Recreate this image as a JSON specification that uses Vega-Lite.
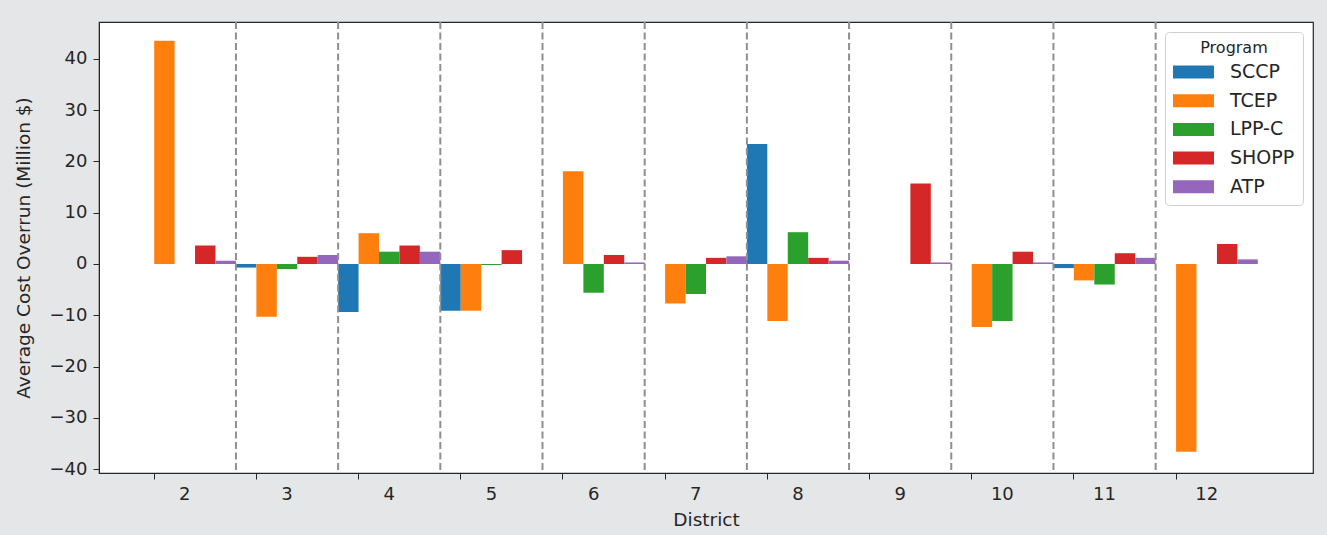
{
  "$schema": "https://vega.github.io/schema/vega-lite/v6.json",
  "width": 1214,
  "height": 451,
  "autosize": {"type": "none"},
  "padding": {"left": 99, "top": 22, "right": 14, "bottom": 62},
  "background": "#e5e6e8",
  "config": {
    "font": "DejaVu Sans",
    "view": {"fill": "white", "stroke": "#262626", "strokeWidth": 1.2},
    "axis": {
      "grid": false,
      "domainColor": "#262626",
      "tickColor": "#262626",
      "labelColor": "#262626",
      "titleColor": "#262626",
      "labelFontSize": 18,
      "titleFontSize": 18.5,
      "titleFontWeight": "normal",
      "tickSize": 6,
      "labelPadding": 5
    },
    "legend": {
      "orient": "top-right",
      "offset": 10,
      "padding": 8,
      "fillColor": "white",
      "strokeColor": "#d0d0d0",
      "cornerRadius": 4,
      "titleFontSize": 16,
      "titleFontWeight": "normal",
      "titleColor": "#262626",
      "titleAnchor": "middle",
      "titleAlign": "center",
      "titlePadding": 6,
      "labelFontSize": 19,
      "labelColor": "#262626",
      "labelOffset": 37,
      "rowPadding": 8.7,
      "symbolType": "M-1,-0.65L3.1,-0.65L3.1,0.65L-1,0.65Z",
      "symbolSize": 400,
      "symbolStrokeWidth": 0,
      "symbolOpacity": 1
    }
  },
  "datasets": {
    "bars": [
      {"district": 2, "program": "TCEP", "overrun": 43.5},
      {"district": 2, "program": "SHOPP", "overrun": 3.6},
      {"district": 2, "program": "ATP", "overrun": 0.65},
      {"district": 3, "program": "SCCP", "overrun": -0.7},
      {"district": 3, "program": "TCEP", "overrun": -10.3},
      {"district": 3, "program": "LPP-C", "overrun": -1.0},
      {"district": 3, "program": "SHOPP", "overrun": 1.4},
      {"district": 3, "program": "ATP", "overrun": 1.75},
      {"district": 4, "program": "SCCP", "overrun": -9.35},
      {"district": 4, "program": "TCEP", "overrun": 6.0},
      {"district": 4, "program": "LPP-C", "overrun": 2.4},
      {"district": 4, "program": "SHOPP", "overrun": 3.6},
      {"district": 4, "program": "ATP", "overrun": 2.4},
      {"district": 5, "program": "SCCP", "overrun": -9.1},
      {"district": 5, "program": "TCEP", "overrun": -9.1},
      {"district": 5, "program": "LPP-C", "overrun": -0.2},
      {"district": 5, "program": "SHOPP", "overrun": 2.7},
      {"district": 6, "program": "TCEP", "overrun": 18.1},
      {"district": 6, "program": "LPP-C", "overrun": -5.6},
      {"district": 6, "program": "SHOPP", "overrun": 1.75},
      {"district": 6, "program": "ATP", "overrun": 0.3},
      {"district": 7, "program": "TCEP", "overrun": -7.7},
      {"district": 7, "program": "LPP-C", "overrun": -5.85},
      {"district": 7, "program": "SHOPP", "overrun": 1.2},
      {"district": 7, "program": "ATP", "overrun": 1.5},
      {"district": 8, "program": "SCCP", "overrun": 23.4},
      {"district": 8, "program": "TCEP", "overrun": -11.1},
      {"district": 8, "program": "LPP-C", "overrun": 6.2},
      {"district": 8, "program": "SHOPP", "overrun": 1.2},
      {"district": 8, "program": "ATP", "overrun": 0.65},
      {"district": 9, "program": "SHOPP", "overrun": 15.7},
      {"district": 9, "program": "ATP", "overrun": 0.3},
      {"district": 10, "program": "TCEP", "overrun": -12.3},
      {"district": 10, "program": "LPP-C", "overrun": -11.1},
      {"district": 10, "program": "SHOPP", "overrun": 2.4},
      {"district": 10, "program": "ATP", "overrun": 0.3},
      {"district": 11, "program": "SCCP", "overrun": -0.8},
      {"district": 11, "program": "TCEP", "overrun": -3.2},
      {"district": 11, "program": "LPP-C", "overrun": -4.0},
      {"district": 11, "program": "SHOPP", "overrun": 2.1},
      {"district": 11, "program": "ATP", "overrun": 1.2},
      {"district": 12, "program": "TCEP", "overrun": -36.6},
      {"district": 12, "program": "SHOPP", "overrun": 3.9},
      {"district": 12, "program": "ATP", "overrun": 0.9}
    ],
    "separators": [
      {"district": 3}, {"district": 4}, {"district": 5}, {"district": 6}, {"district": 7},
      {"district": 8}, {"district": 9}, {"district": 10}, {"district": 11}, {"district": 12}
    ]
  },
  "layer": [
    {
      "data": {"name": "bars"},
      "mark": {"type": "bar"},
      "encoding": {
        "x": {
          "field": "district",
          "type": "ordinal",
          "scale": {"domain": [2, 3, 4, 5, 6, 7, 8, 9, 10, 11, 12], "paddingInner": 0, "paddingOuter": 0.44, "align": 0.3864, "round": false},
          "axis": {"title": "District", "labelAngle": 0, "bandPosition": 0.2, "labelPadding": 6, "titlePadding": 7}
        },
        "xOffset": {
          "field": "program",
          "type": "nominal",
          "scale": {"domain": ["SCCP", "TCEP", "LPP-C", "SHOPP", "ATP"], "paddingInner": 0, "paddingOuter": 0}
        },
        "y": {
          "field": "overrun",
          "type": "quantitative",
          "scale": {"domain": [-40.74, 47.17], "nice": false, "zero": false},
          "axis": {"title": "Average Cost Overrun (Million $)", "values": [-40, -30, -20, -10, 0, 10, 20, 30, 40], "labelPadding": 6, "titlePadding": 16}
        },
        "color": {
          "field": "program",
          "type": "nominal",
          "title": "Program",
          "scale": {"domain": ["SCCP", "TCEP", "LPP-C", "SHOPP", "ATP"], "range": ["#1f77b4", "#ff7f0e", "#2ca02c", "#d62728", "#9467bd"]}
        }
      }
    },
    {
      "data": {"name": "separators"},
      "mark": {"type": "rule", "strokeDash": [7, 3.5], "color": "#8f8f8f", "strokeWidth": 2},
      "encoding": {
        "x": {
          "field": "district",
          "type": "ordinal",
          "bandPosition": 0,
          "scale": {"domain": [2, 3, 4, 5, 6, 7, 8, 9, 10, 11, 12], "paddingInner": 0, "paddingOuter": 0.44, "align": 0.3864, "round": false},
          "axis": {"title": "District", "labelAngle": 0, "bandPosition": 0.2, "labelPadding": 6, "titlePadding": 7}
        }
      }
    }
  ]
}
